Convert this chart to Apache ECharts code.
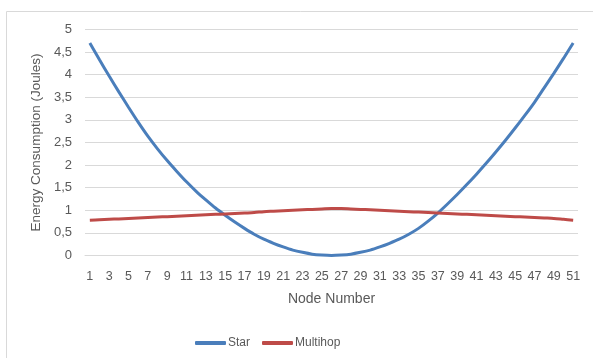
<!DOCTYPE html>
<html>
<head>
<meta charset="utf-8">
<script src="https://cdn.jsdelivr.net/npm/echarts@6/dist/echarts.min.js"></script>
<style>
html,body{margin:0;padding:0;background:#fff;}
#chart{width:593px;height:358px;}
</style>
</head>
<body>
<div id="chart"></div>
<script>
var nodes = [];
for (var i = 1; i <= 51; i++) nodes.push(String(i));

var starValues = [4.70,4.33,3.97,3.62,3.28,2.95,2.64,2.36,2.10,1.86,
                  1.63,1.42,1.23,1.05,0.89,0.74,0.60,0.47,0.36,0.27,
                  0.19,0.12,0.07,0.03,0.01,0.00,0.01,0.03,0.07,0.12,
                  0.19,0.27,0.36,0.47,0.60,0.76,0.94,1.14,1.35,1.57,
                  1.80,2.04,2.29,2.55,2.82,3.10,3.39,3.71,4.03,4.36,4.70];

var multihopValues = [0.78,0.79,0.80,0.81,0.82,0.83,0.84,0.85,0.86,0.87,
                      0.88,0.89,0.90,0.91,0.92,0.93,0.94,0.95,0.97,0.98,
                      0.99,1.00,1.01,1.02,1.03,1.04,1.04,1.03,1.02,1.01,
                      1.00,0.99,0.98,0.97,0.96,0.95,0.94,0.93,0.92,0.91,
                      0.90,0.89,0.88,0.87,0.86,0.85,0.84,0.83,0.82,0.80,0.78];

var seriesNames = ['Star', 'Multihop'];
var xTitle = 'Node Number';
var yTitle = 'Energy Consumption (Joules)';

var font = '"Liberation Sans", Arial, sans-serif';
var chart = echarts.init(document.getElementById('chart'), null, {renderer: 'canvas'});
chart.setOption({
  animation: false,
  textStyle: {fontFamily: font},
  graphic: [{
    type: 'rect', silent: true, z: -1,
    shape: {x: 6.5, y: 11.5, width: 700, height: 400},
    style: {fill: 'none', stroke: '#d9d9d9', lineWidth: 1}
  }],
  grid: {left: 85, right: 15, top: 29.5, bottom: 102.5},
  legend: {
    left: 195, top: 337, padding: 0,
    itemWidth: 31, itemHeight: 4, itemGap: 12,
    icon: 'roundRect',
    textStyle: {color: '#595959', fontSize: 12, fontFamily: font, padding: [0,0,0,-3]},
    data: seriesNames
  },
  xAxis: {
    type: 'category',
    data: nodes,
    boundaryGap: true,
    name: xTitle,
    nameLocation: 'middle',
    nameGap: 37,
    nameTextStyle: {color: '#595959', fontSize: 14, fontFamily: font},
    axisLine: {lineStyle: {color: '#d9d9d9'}},
    axisTick: {show: false},
    axisLabel: {color: '#595959', fontSize: 12.5, interval: 1, margin: 15, fontFamily: font}
  },
  yAxis: {
    type: 'value',
    min: 0, max: 5, interval: 0.5,
    name: yTitle,
    nameLocation: 'middle',
    nameGap: 39,
    nameTextStyle: {color: '#595959', fontSize: 13.5, fontFamily: font},
    axisLine: {show: false},
    axisTick: {show: false},
    splitLine: {lineStyle: {color: '#d9d9d9'}},
    axisLabel: {
      color: '#595959', fontSize: 13, margin: 13, fontFamily: font,
      formatter: function (v) { return String(v).replace('.', ','); }
    }
  },
  series: [
    {name: seriesNames[0], type: 'line', data: starValues, smooth: 0.3, showSymbol: false,
     lineStyle: {color: '#4a7ebb', width: 3}, itemStyle: {color: '#4a7ebb'}},
    {name: seriesNames[1], type: 'line', data: multihopValues, smooth: 0.3, showSymbol: false,
     lineStyle: {color: '#be4b48', width: 3}, itemStyle: {color: '#be4b48'}}
  ]
});
</script>
</body>
</html>
